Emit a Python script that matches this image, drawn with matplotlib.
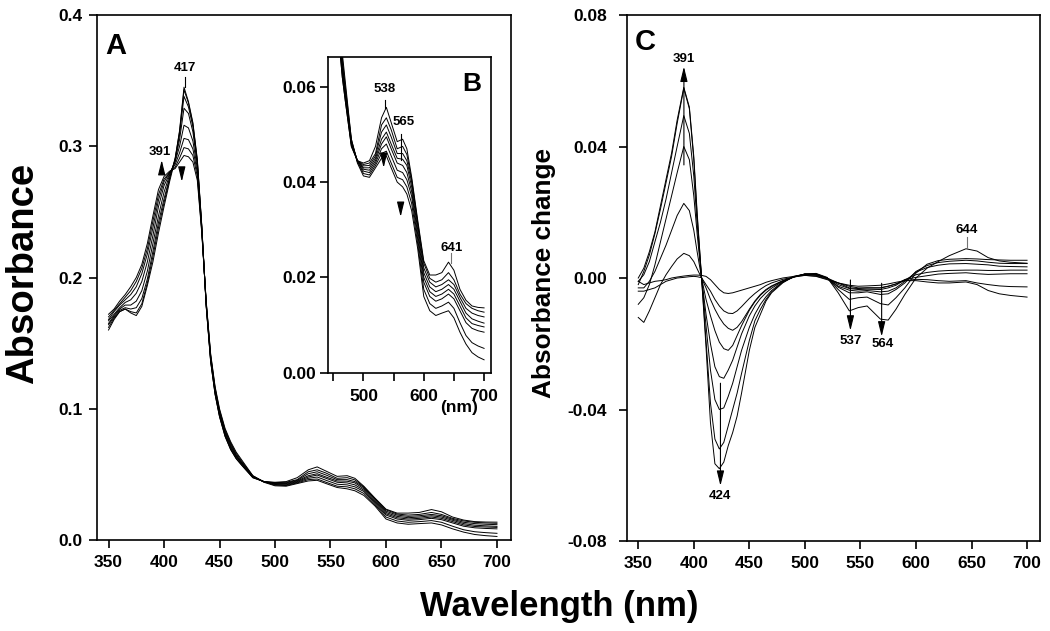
import matplotlib
matplotlib.use("Agg")
import matplotlib.pyplot as plt
from matplotlib.ticker import FormatStrFormatter

plt.rcParams['font.family'] = ['Liberation Sans', 'DejaVu Sans']
plt.rcParams['font.weight'] = 'bold'

# panel A / inset B: absorbance spectra (8 scans)
wl_a = [350, 355, 360, 365, 370, 375, 380, 385, 390, 395,
        400, 405, 410, 414, 418, 422, 426, 430, 434, 438,
        442, 446, 450, 455, 460, 465, 470, 480, 490, 500,
        510, 520, 530, 538, 546, 556, 565, 572, 580, 590,
        600, 610, 620, 630, 641, 650, 660, 670, 680, 690,
        700]

scan1 = [0.160, 0.168, 0.174, 0.176, 0.173, 0.171, 0.178, 0.194, 0.212, 0.234,
         0.254, 0.273, 0.290, 0.312, 0.345, 0.334, 0.318, 0.290, 0.240, 0.178,
         0.136, 0.111, 0.094, 0.079, 0.069, 0.062, 0.057, 0.0475, 0.0445, 0.0440,
         0.0445, 0.0475, 0.0535, 0.0557, 0.0525, 0.0485, 0.0490, 0.0470, 0.0410, 0.0320,
         0.0235, 0.0205, 0.0205, 0.0210, 0.0232, 0.0215, 0.0175, 0.0152, 0.0140, 0.0137,
         0.0136]
scan2 = [0.162, 0.169, 0.174, 0.176, 0.174, 0.173, 0.180, 0.196, 0.216, 0.238,
         0.257, 0.275, 0.291, 0.311, 0.343, 0.333, 0.317, 0.289, 0.239, 0.178,
         0.136, 0.111, 0.094, 0.079, 0.069, 0.062, 0.057, 0.0475, 0.0445, 0.0437,
         0.0440, 0.0460, 0.0520, 0.0535, 0.0510, 0.0470, 0.0475, 0.0458, 0.0405, 0.0315,
         0.0230, 0.0198, 0.0190, 0.0195, 0.0210, 0.0195, 0.0165, 0.0145, 0.0135, 0.0130,
         0.0127]
scan3 = [0.164, 0.170, 0.175, 0.177, 0.176, 0.177, 0.184, 0.199, 0.220, 0.242,
         0.260, 0.276, 0.290, 0.309, 0.338, 0.330, 0.315, 0.288, 0.239, 0.179,
         0.137, 0.112, 0.095, 0.080, 0.070, 0.063, 0.058, 0.0480, 0.0445, 0.0434,
         0.0435, 0.0455, 0.0505, 0.0520, 0.0495, 0.0460, 0.0460, 0.0445, 0.0400, 0.0310,
         0.0220, 0.0190, 0.0180, 0.0185, 0.0195, 0.0185, 0.0158, 0.0135, 0.0125, 0.0120,
         0.0117]
scan4 = [0.165, 0.171, 0.176, 0.179, 0.179, 0.182, 0.190, 0.205, 0.226, 0.247,
         0.265, 0.278, 0.289, 0.305, 0.329, 0.325, 0.311, 0.286, 0.238, 0.179,
         0.138, 0.113, 0.096, 0.081, 0.071, 0.064, 0.058, 0.0480, 0.0445, 0.0430,
         0.0430, 0.0450, 0.0490, 0.0505, 0.0480, 0.0450, 0.0448, 0.0435, 0.0390, 0.0300,
         0.0210, 0.0180, 0.0170, 0.0175, 0.0185, 0.0175, 0.0150, 0.0125, 0.0113, 0.0108,
         0.0104]
scan5 = [0.167, 0.172, 0.177, 0.181, 0.183, 0.188, 0.197, 0.212, 0.232, 0.254,
         0.270, 0.279, 0.288, 0.300, 0.316, 0.314, 0.304, 0.283, 0.237, 0.180,
         0.139, 0.114, 0.097, 0.082, 0.072, 0.064, 0.059, 0.0485, 0.0445, 0.0427,
         0.0425, 0.0445, 0.0480, 0.0495, 0.0470, 0.0440, 0.0435, 0.0420, 0.0380, 0.0290,
         0.0200, 0.0170, 0.0160, 0.0165, 0.0175, 0.0165, 0.0140, 0.0115, 0.0103, 0.0099,
         0.0096]
scan6 = [0.168, 0.174, 0.179, 0.183, 0.187, 0.193, 0.203, 0.218, 0.238, 0.259,
         0.273, 0.280, 0.286, 0.295, 0.306, 0.305, 0.298, 0.280, 0.236, 0.181,
         0.140, 0.115, 0.098, 0.083, 0.073, 0.065, 0.059, 0.0485, 0.0443, 0.0423,
         0.0420, 0.0440, 0.0470, 0.0480, 0.0455, 0.0425, 0.0420, 0.0405, 0.0370, 0.0280,
         0.0190, 0.0160, 0.0150, 0.0155, 0.0165, 0.0155, 0.0130, 0.0105, 0.0093, 0.0088,
         0.0085]
scan7 = [0.170, 0.175, 0.180, 0.185, 0.190, 0.197, 0.207, 0.222, 0.243, 0.263,
         0.275, 0.280, 0.284, 0.291, 0.299, 0.298, 0.293, 0.277, 0.235, 0.181,
         0.141, 0.116, 0.099, 0.084, 0.074, 0.066, 0.060, 0.0490, 0.0443, 0.0418,
         0.0415, 0.0435, 0.0460, 0.0465, 0.0440, 0.0410, 0.0405, 0.0390, 0.0355, 0.0270,
         0.0175, 0.0145, 0.0135, 0.0140, 0.0148, 0.0135, 0.0105, 0.0078, 0.0063, 0.0056,
         0.0051]
scan8 = [0.172, 0.176, 0.182, 0.187, 0.193, 0.200, 0.210, 0.226, 0.247, 0.267,
         0.277, 0.281, 0.283, 0.288, 0.293, 0.292, 0.288, 0.274, 0.234, 0.182,
         0.142, 0.117, 0.100, 0.085, 0.075, 0.067, 0.061, 0.0490, 0.0440, 0.0413,
         0.0410, 0.0430, 0.0450, 0.0455, 0.0430, 0.0400, 0.0390, 0.0375, 0.0340, 0.0260,
         0.0160, 0.0130, 0.0120, 0.0125, 0.0130, 0.0115, 0.0085, 0.0060, 0.0042, 0.0033,
         0.0027]

# panel C: difference spectra
wl_c = [350, 355, 360, 365, 370, 375, 380, 385, 391, 396,
        400, 403, 407, 411, 415, 419, 423, 427, 431, 435,
        439, 443, 450, 455, 460, 465, 470, 480, 490, 500,
        510, 520, 530, 540, 548, 556, 568, 575, 582, 590,
        600, 610, 620, 630, 645, 655, 665, 675, 685, 700]

diff1 = [-0.0010, -0.0020, -0.0015, -0.0010, -0.0008, -0.0005, 0.0000, 0.0003, 0.0006, 0.0008,
         0.0009, 0.0009, 0.0008, 0.0005, -0.0005, -0.0020, -0.0035, -0.0045, -0.0047, -0.0045,
         -0.0041, -0.0037, -0.0030, -0.0025, -0.0020, -0.0013, -0.0008, 0.0000, 0.0005, 0.0008,
         0.0005, -0.0005, -0.0015, -0.0022, -0.0025, -0.0024, -0.0022, -0.0018, -0.0013, -0.0008,
         -0.0008, -0.0012, -0.0015, -0.0015, -0.0012, -0.0020, -0.0038, -0.0048, -0.0053, -0.0058]
diff2 = [-0.0040, -0.0040, -0.0035, -0.0030, -0.0020, -0.0010, -0.0005, 0.0000, 0.0002, 0.0004,
         0.0005, 0.0004, 0.0001, -0.0020, -0.0040, -0.0065, -0.0085, -0.0100, -0.0107, -0.0108,
         -0.0100, -0.0087, -0.0062, -0.0047, -0.0034, -0.0023, -0.0015, -0.0004, 0.0003, 0.0008,
         0.0006, -0.0003, -0.0015, -0.0025, -0.0030, -0.0030, -0.0030, -0.0025, -0.0018, -0.0008,
         -0.0004, -0.0005, -0.0008, -0.0010, -0.0008, -0.0015, -0.0020, -0.0024, -0.0026, -0.0027]
diff3 = [-0.0120, -0.0135, -0.0100, -0.0060, -0.0020, 0.0010, 0.0035, 0.0058, 0.0075, 0.0068,
         0.0050, 0.0028, 0.0000, -0.0030, -0.0065, -0.0095, -0.0120, -0.0140, -0.0153, -0.0159,
         -0.0150, -0.0133, -0.0095, -0.0070, -0.0050, -0.0035, -0.0024, -0.0008, 0.0004, 0.0010,
         0.0008, 0.0000, -0.0015, -0.0030, -0.0032, -0.0030, -0.0030, -0.0025, -0.0018, -0.0005,
         0.0002, 0.0007, 0.0012, 0.0014, 0.0016, 0.0013, 0.0011, 0.0012, 0.0013, 0.0013]
diff4 = [-0.0030, -0.0030, -0.0010, 0.0020, 0.0060, 0.0100, 0.0145, 0.0190, 0.0227, 0.0205,
         0.0145, 0.0080, 0.0000, -0.0065, -0.0115, -0.0160, -0.0195, -0.0215, -0.0220, -0.0205,
         -0.0175, -0.0145, -0.0098, -0.0072, -0.0052, -0.0037, -0.0026, -0.0009, 0.0003, 0.0012,
         0.0010, 0.0000, -0.0020, -0.0032, -0.0035, -0.0034, -0.0035, -0.0030, -0.0022, -0.0005,
         0.0010, 0.0017, 0.0021, 0.0023, 0.0024, 0.0024, 0.0023, 0.0023, 0.0024, 0.0024]
diff5 = [-0.0080, -0.0060, -0.0020, 0.0040, 0.0110, 0.0180, 0.0250, 0.0320, 0.0400, 0.0360,
         0.0250, 0.0135, 0.0000, -0.0110, -0.0200, -0.0270, -0.0300, -0.0305, -0.0280, -0.0250,
         -0.0210, -0.0170, -0.0115, -0.0085, -0.0062, -0.0045, -0.0031, -0.0010, 0.0003, 0.0012,
         0.0011, 0.0000, -0.0025, -0.0037, -0.0040, -0.0038, -0.0042, -0.0040, -0.0030, -0.0010,
         0.0018, 0.0032, 0.0039, 0.0043, 0.0044, 0.0042, 0.0040, 0.0036, 0.0035, 0.0034]
diff6 = [-0.0010, 0.0010, 0.0050, 0.0110, 0.0170, 0.0240, 0.0320, 0.0400, 0.0494, 0.0440,
         0.0310, 0.0165, 0.0000, -0.0145, -0.0280, -0.0370, -0.0400, -0.0395, -0.0360, -0.0320,
         -0.0270, -0.0220, -0.0150, -0.0110, -0.0080, -0.0057, -0.0038, -0.0012, 0.0003, 0.0012,
         0.0012, 0.0000, -0.0028, -0.0045, -0.0045, -0.0042, -0.0050, -0.0048, -0.0035, -0.0015,
         0.0020, 0.0038, 0.0047, 0.0051, 0.0054, 0.0052, 0.0048, 0.0045, 0.0044, 0.0044]
diff7 = [-0.0020, 0.0020, 0.0070, 0.0135, 0.0210, 0.0290, 0.0370, 0.0470, 0.0577, 0.0515,
         0.0360, 0.0190, 0.0000, -0.0190, -0.0380, -0.0490, -0.0520, -0.0500, -0.0450, -0.0400,
         -0.0350, -0.0290, -0.0190, -0.0130, -0.0095, -0.0065, -0.0042, -0.0013, 0.0004, 0.0012,
         0.0013, 0.0000, -0.0035, -0.0065, -0.0060, -0.0058, -0.0078, -0.0082, -0.0060, -0.0030,
         0.0015, 0.0042, 0.0053, 0.0057, 0.0059, 0.0058, 0.0056, 0.0055, 0.0054, 0.0054]
diff8 = [0.0000, 0.0030, 0.0080, 0.0140, 0.0220, 0.0300, 0.0380, 0.0480, 0.0580, 0.0520,
         0.0370, 0.0200, 0.0000, -0.0210, -0.0440, -0.0565, -0.0580, -0.0560, -0.0510, -0.0470,
         -0.0420, -0.0350, -0.0220, -0.0150, -0.0110, -0.0070, -0.0045, -0.0015, 0.0005, 0.0012,
         0.0014, 0.0002, -0.0045, -0.0100, -0.0090, -0.0085, -0.0125, -0.0128, -0.0095, -0.0050,
         0.0000, 0.0030, 0.0050, 0.0068, 0.0089, 0.0082, 0.0062, 0.0052, 0.0048, 0.0045]

scans = [scan1, scan2, scan3, scan4, scan5, scan6, scan7, scan8]
diffs = [diff1, diff2, diff3, diff4, diff5, diff6, diff7, diff8]


def style_axes(ax, ypad, xpad):
    for sp in ax.spines.values():
        sp.set_linewidth(1.2)
    ax.tick_params(which='both', direction='out', length=6, width=1.2,
                   labelsize=12.5, top=False, right=False)
    ax.tick_params(axis='y', which='both', pad=ypad)
    ax.tick_params(axis='x', which='both', pad=xpad)


def tag(ax, x, y_text, y0, y1, text, color='black'):
    ax.plot([x, x], [y0, y1], color=color, lw=0.8)
    ax.text(x, y_text, text, ha='center', va='center', fontsize=9.5)


def arrow(ax, x, y_from, y_to):
    ax.annotate('', xy=(x, y_to), xytext=(x, y_from),
                arrowprops=dict(arrowstyle='-|>,head_length=0.9,head_width=0.22',
                                mutation_scale=10, lw=0.8, color='black',
                                shrinkA=0, shrinkB=0))


def main():
    fig = plt.figure(figsize=(10.5, 6.31), dpi=100)
    ax_a = fig.add_axes([0.0928, 0.1442, 0.3934, 0.8320])
    ax_b = fig.add_axes([0.3124, 0.4094, 0.1554, 0.4998])
    ax_c = fig.add_axes([0.5976, 0.1426, 0.3925, 0.8336])

    # A
    for s in scans:
        ax_a.plot(wl_a, s, color='black', lw=0.7)
    ax_a.set_xlim(340, 712.2)
    ax_a.set_ylim(0, 0.4)
    ax_a.set_xticks(range(350, 701, 50))
    ax_a.set_yticks([0.0, 0.1, 0.2, 0.3, 0.4])
    ax_a.yaxis.set_major_formatter(FormatStrFormatter('%.1f'))
    style_axes(ax_a, 5, 5)
    ax_a.text(0.0196, 0.968, 'A', transform=ax_a.transAxes, ha='left', va='top',
              fontsize=21, fontweight='bold')
    tag(ax_a, 418.5, 0.3594, 0.3528, 0.3451, '417')
    ax_a.text(396.4, 0.2959, '391', ha='center', va='center', fontsize=9.5)
    arrow(ax_a, 397.9, 0.2794, 0.2895)
    arrow(ax_a, 416.0, 0.2819, 0.2730)

    # B (inset)
    ax_b.set_facecolor('white')
    for s in scans:
        ax_b.plot(wl_a, s, color='black', lw=0.7)
    ax_b.set_xlim(441.3, 711.8)
    ax_b.set_ylim(0, 0.0662)
    ax_b.set_xticks([500, 600, 700])
    ax_b.set_xticks([450, 550, 650], minor=True)
    ax_b.set_yticks([0.0, 0.02, 0.04, 0.06])
    ax_b.yaxis.set_major_formatter(FormatStrFormatter('%.2f'))
    style_axes(ax_b, 2.5, 5.5)
    ax_b.text(0.9418, 0.9543, 'B', transform=ax_b.transAxes, ha='right', va='top',
              fontsize=19, fontweight='bold')
    tag(ax_b, 535.8, 0.0595, 0.0572, 0.0555, '538')
    arrow(ax_b, 533.5, 0.0462, 0.0430)
    tag(ax_b, 562.3, 0.0527, 0.0501, 0.0446, '')
    ax_b.text(567.3, 0.0527, '565', ha='center', va='center', fontsize=9.5)
    arrow(ax_b, 561.7, 0.0352, 0.0327)
    tag(ax_b, 645.7, 0.0261, 0.0251, 0.0230, '641', color='0.45')
    fig.text(0.4375, 0.3535, '(nm)', ha='center', va='center', fontsize=12.5)

    # C
    for d in diffs:
        ax_c.plot(wl_c, d, color='black', lw=0.7)
    ax_c.set_xlim(340.3, 711.3)
    ax_c.set_ylim(-0.08, 0.08)
    ax_c.set_xticks(range(350, 701, 50))
    ax_c.set_yticks([-0.08, -0.04, 0.0, 0.04, 0.08])
    ax_c.yaxis.set_major_formatter(FormatStrFormatter('%.2f'))
    style_axes(ax_c, 8.5, 5)
    ax_c.text(0.0182, 0.9747, 'C', transform=ax_c.transAxes, ha='left', va='top',
              fontsize=21, fontweight='bold')
    ax_c.text(391.1, 0.0665, '391', ha='center', va='center', fontsize=9.5)
    arrow(ax_c, 391.1, 0.0344, 0.0643)
    tag(ax_c, 645.5, 0.0146, 0.0126, 0.0090, '644', color='0.45')
    ax_c.text(541.6, -0.0192, '537', ha='center', va='center', fontsize=9.5)
    arrow(ax_c, 541.0, -0.0006, -0.0160)
    ax_c.text(569.7, -0.0201, '564', ha='center', va='center', fontsize=9.5)
    arrow(ax_c, 569.1, -0.0016, -0.0178)
    ax_c.text(423.1, -0.0663, '424', ha='center', va='center', fontsize=9.5)
    arrow(ax_c, 424.0, -0.0320, -0.0632)

    fig.text(0.0219, 0.5674, 'Absorbance', rotation=90, ha='center', va='center',
             fontsize=27.5, fontweight='bold')
    fig.text(0.5183, 0.5681, 'Absorbance change', rotation=90, ha='center',
             va='center', fontsize=18.8, fontweight='bold')
    fig.text(0.5326, 0.0385, 'Wavelength (nm)', ha='center', va='center',
             fontsize=25, fontweight='bold')

    fig.savefig('out.png', dpi=100)


if __name__ == "__main__":
    main()
